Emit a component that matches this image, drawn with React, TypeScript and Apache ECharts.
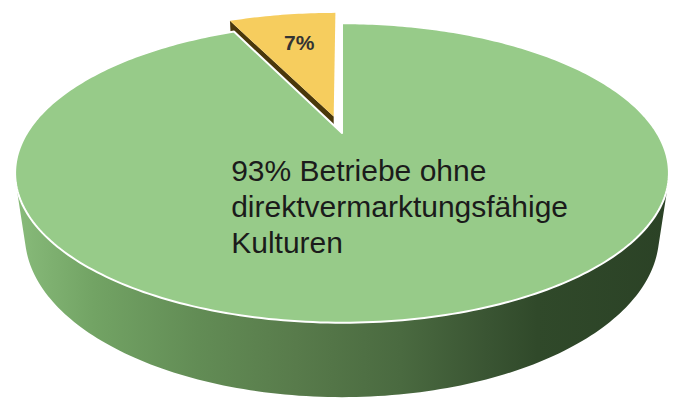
import React, { useEffect, useRef } from 'react';
import * as echarts from 'echarts';

// ---- data ----
const categories: string[] = ['Betriebe ohne\ndirektvermarktungsfähige\nKulturen', ''];
const values: number[] = [93, 7];

// ---- styles ----
const topColors: string[] = ['#97CB89', '#F6CD5E'];
const topStrokes: string[] = ['#ffffff', 'none'];
const cutColors: string[] = ['#4C7A42', '#4A380A'];
const wallStops: { offset: number; color: string }[][] = [
  [
    { offset: 0, color: '#88BB7A' },
    { offset: 0.12, color: '#72A364' },
    { offset: 0.28, color: '#628C55' },
    { offset: 0.43, color: '#587B4B' },
    { offset: 0.59, color: '#4A6A40' },
    { offset: 0.72, color: '#3A5533' },
    { offset: 0.8, color: '#30492A' },
    { offset: 1, color: '#2B4226' },
  ],
  [
    { offset: 0, color: '#C9A23F' },
    { offset: 1, color: '#6B5414' },
  ],
];
const explodeFlags: boolean[] = [false, true];
const labelRadius: number[] = [0.49, 0.68];
const labelNudge: number[][] = [[19, -3], [3, 0]];
const labelFonts: string[] = ['normal 30px "Liberation Sans", Arial, sans-serif', 'bold 21px "Liberation Sans", Arial, sans-serif'];
const labelColors: string[] = ['#1B1B1B', '#333333'];

const RAD = Math.PI / 180;
const ALPHA = 26.2 * RAD;
const SA = Math.sin(ALPHA);
const CA = Math.cos(ALPHA);
const DIST = 3.364;
const DEPTH = 0.22;
const EXPLODE_DIST = 0.125;
const EXPLODE_TURN = 0;

function measure(text: string, font: string): number {
  const c = document.createElement('canvas').getContext('2d');
  if (!c) return text.length * 14;
  c.font = font;
  return Math.max(...text.split('\n').map((l) => c.measureText(l).width));
}

export default function App() {
  const ref = useRef<HTMLDivElement>(null);
  useEffect(() => {
    document.body.style.margin = '0';
    const chart = echarts.init(ref.current as HTMLDivElement, null, { renderer: 'svg' });
    const total = values.reduce((a, b) => a + b, 0);
    const starts: number[] = [];
    let acc = 0;
    values.forEach((v) => {
      starts.push((acc / total) * 360);
      acc += v;
    });

    const renderItem = (params: any, api: any) => {
      const i = params.dataIndex;
      const W = api.getWidth();
      const Hh = api.getHeight();
      const F = W * 1.561;
      const CX = W * 0.5037;
      const CY = Hh * 0.3325;
      const proj = (X: number, Y: number, Z: number): number[] => {
        const d = DIST + Y * CA - Z * SA;
        const yc = Y * SA + Z * CA;
        return [CX + (F * X) / d, CY - (F * yc) / d];
      };
      const v = api.value(0) as number;
      const a0 = starts[i];
      const a1 = a0 + (v / total) * 360;
      const mid = (a0 + a1) / 2;
      let ox = 0;
      let oy = 0;
      if (explodeFlags[i]) {
        const e = (mid + EXPLODE_TURN) * RAD;
        ox = EXPLODE_DIST * Math.sin(e);
        oy = EXPLODE_DIST * Math.cos(e);
      }
      const P = (a: number, r: number, Z: number) =>
        proj(ox + r * Math.sin(a * RAD), oy + r * Math.cos(a * RAD), Z);
      const arc = (from: number, to: number, Z: number) => {
        const n = Math.max(2, Math.ceil(Math.abs(to - from)));
        const pts: number[][] = [];
        for (let k = 0; k <= n; k++) pts.push(P(from + ((to - from) * k) / n, 1, Z));
        return pts;
      };
      const base = (1 - Math.cos(mid * RAD)) * 10;
      const children: any[] = [];

      // outer wall (front-facing part only)
      const vMin = Math.acos(-1 / (DIST * CA)) / RAD;
      const vMax = 360 - vMin;
      const ws = Math.max(a0, vMin);
      const we = Math.min(a1, vMax);
      if (we > ws) {
        const top = arc(ws, we, 0);
        const bot = arc(ws, we, -DEPTH).reverse();
        children.push({
          type: 'polygon',
          z2: base,
          shape: { points: top.concat(bot) },
          style: { fill: new echarts.graphic.LinearGradient(0, 0, 1, 0, wallStops[i]) },
        });
      }

      // radial cut faces
      const cutFace = (a: number, nx: number, ny: number) => {
        const vis = -ox * nx + (-DIST * CA - oy) * ny;
        if (vis < 0.2) return;
        children.push({
          type: 'polygon',
          z2: base + 1,
          shape: { points: [P(a, 0, 0), P(a, 1, 0), P(a, 1, -DEPTH), P(a, 0, -DEPTH)] },
          style: { fill: cutColors[i] },
        });
      };
      cutFace(a0, -Math.cos(a0 * RAD), Math.sin(a0 * RAD));
      cutFace(a1, Math.cos(a1 * RAD), -Math.sin(a1 * RAD));

      // top face
      children.push({
        type: 'polygon',
        z2: base + 2,
        shape: { points: [P(0, 0, 0)].concat(arc(a0, a1, 0)) },
        style: {
          fill: topColors[i],
          stroke: topStrokes[i],
          lineWidth: topStrokes[i] === 'none' ? 0 : 2,
          lineJoin: 'round',
        },
      });

      // label
      const pct = Math.round((v / total) * 100);
      const name = categories[i];
      const text = name ? `${pct}% ${name}` : `${pct}%`;
      const lp = P(mid, labelRadius[i], 0);
      const lx = lp[0] + labelNudge[i][0];
      const ly = lp[1] + labelNudge[i][1];
      const lines = text.split('\n').length;
      if (lines > 1) {
        const w = measure(text, labelFonts[i]);
        children.push({
          type: 'text',
          z2: 100,
          style: {
            text,
            x: lx - w / 2,
            y: ly - (lines * 36) / 2,
            font: labelFonts[i],
            lineHeight: 36,
            fill: labelColors[i],
            align: 'left',
            verticalAlign: 'top',
          },
        });
      } else {
        children.push({
          type: 'text',
          z2: 100,
          style: {
            text,
            x: lx,
            y: ly,
            font: labelFonts[i],
            fill: labelColors[i],
            align: 'center',
            verticalAlign: 'middle',
          },
        });
      }
      return { type: 'group', children };
    };

    chart.setOption({
      animation: false,
      backgroundColor: '#ffffff',
      series: [
        {
          type: 'custom',
          coordinateSystem: 'none',
          silent: true,
          renderItem,
          data: values.map((v, i) => ({ name: categories[i], value: v })),
        },
      ],
    });
    const onResize = () => chart.resize();
    window.addEventListener('resize', onResize);
    return () => {
      window.removeEventListener('resize', onResize);
      chart.dispose();
    };
  }, []);
  return <div ref={ref} style={{ width: 679, height: 400 }} />;
}
